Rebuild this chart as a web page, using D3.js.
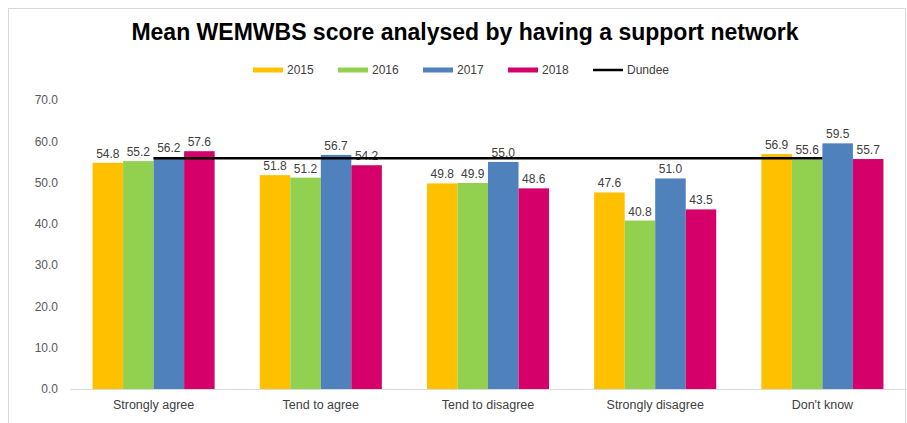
<!DOCTYPE html>
<html>
<head>
<meta charset="utf-8">
<script src="https://cdn.jsdelivr.net/npm/d3@7"></script>
<style>
  html, body { margin: 0; padding: 0; background: #fff; }
  svg { display: block; font-family: "Liberation Sans", Arial, sans-serif; }
</style>
</head>
<body>
<svg id="chart" width="907" height="423"></svg>
<script>
// Chart data
const categories = ["Strongly agree", "Tend to agree", "Tend to disagree", "Strongly disagree", "Don't know"];
const years = ["2015", "2016", "2017", "2018"];
const values2015 = [54.8, 51.8, 49.8, 47.6, 56.9];
const values2016 = [55.2, 51.2, 49.9, 40.8, 55.6];
const values2017 = [56.2, 56.7, 55.0, 51.0, 59.5];
const values2018 = [57.6, 54.2, 48.6, 43.5, 55.7];
const dundee = 55.9;
const yTicks = [0, 10, 20, 30, 40, 50, 60, 70];
const colors = ["#FFC000", "#92D050", "#4F81BD", "#D5006A"];

const seriesValues = [values2015, values2016, values2017, values2018];

const svg = d3.select("#chart");

// Outer chart frame
svg.append("rect")
  .attr("x", 8.5).attr("y", 8.5)
  .attr("width", 897).attr("height", 430)
  .attr("fill", "none").attr("stroke", "#d9d9d9");

const plot = { left: 70, right: 906, top: 100, bottom: 389 };

const x0 = d3.scaleBand().domain(categories)
  .range([plot.left, plot.right])
  .paddingInner(0.27).paddingOuter(0.135);
const x1 = d3.scaleBand().domain(years).range([0, x0.bandwidth()]);
const y = d3.scaleLinear().domain([0, 70]).range([plot.bottom, plot.top]);

// Title
svg.append("text")
  .attr("x", 465).attr("y", 40)
  .attr("text-anchor", "middle")
  .attr("font-size", 23).attr("font-weight", "bold")
  .attr("fill", "#000")
  .text("Mean WEMWBS score analysed by having a support network");

// Legend
const legendItems = years.map((yr, i) => ({ label: yr, color: colors[i], w: 5 }))
  .concat([{ label: "Dundee", color: "#000", w: 2.5 }]);
const legend = svg.append("g");
legendItems.forEach((d, i) => {
  const lx = 253 + i * 85;
  legend.append("line")
    .attr("x1", lx).attr("x2", lx + 30)
    .attr("y1", 70).attr("y2", 70)
    .attr("stroke", d.color).attr("stroke-width", d.w);
  legend.append("text")
    .attr("x", lx + 34).attr("y", 74)
    .attr("font-size", 12).attr("fill", "#404040")
    .text(d.label);
});

// Y axis (labels only)
const yAxis = svg.append("g")
  .attr("transform", `translate(${plot.left},0)`)
  .call(d3.axisLeft(y).tickValues(yTicks).tickFormat(d3.format(".1f")).tickSize(0).tickPadding(12));
yAxis.select(".domain").remove();
yAxis.selectAll("text")
  .attr("font-size", 12).attr("fill", "#595959")
  .attr("font-family", "'Liberation Sans', Arial, sans-serif");

// Bars
const groups = svg.append("g").selectAll("g")
  .data(categories)
  .join("g")
  .attr("transform", c => `translate(${x0(c)},0)`);

groups.selectAll("rect")
  .data((c, ci) => years.map((yr, si) => ({ yr, si, v: seriesValues[si][ci] })))
  .join("rect")
  .attr("x", d => x1(d.yr))
  .attr("y", d => y(d.v))
  .attr("width", x1.bandwidth())
  .attr("height", d => y(0) - y(d.v))
  .attr("fill", d => colors[d.si]);

// X axis baseline and category labels
const xAxis = svg.append("g")
  .attr("transform", `translate(0,${plot.bottom})`)
  .call(d3.axisBottom(x0).tickSize(0).tickPadding(11));
xAxis.select(".domain").attr("stroke", "#d9d9d9");
xAxis.selectAll("text")
  .attr("font-size", 12.5).attr("fill", "#404040")
  .attr("font-family", "'Liberation Sans', Arial, sans-serif");

// Dundee average line
svg.append("line")
  .attr("x1", x0(categories[0]) + x0.bandwidth() / 2)
  .attr("x2", x0(categories[categories.length - 1]) + x0.bandwidth() / 2)
  .attr("y1", y(dundee)).attr("y2", y(dundee))
  .attr("stroke", "#000").attr("stroke-width", 2.5);

// Value labels
groups.selectAll("text.val")
  .data((c, ci) => years.map((yr, si) => ({ yr, si, v: seriesValues[si][ci] })))
  .join("text")
  .attr("class", "val")
  .attr("x", d => x1(d.yr) + x1.bandwidth() / 2)
  .attr("y", d => y(d.v) - 5)
  .attr("text-anchor", "middle")
  .attr("font-size", 12).attr("fill", "#404040")
  .text(d => d.v.toFixed(1));
</script>
</body>
</html>
